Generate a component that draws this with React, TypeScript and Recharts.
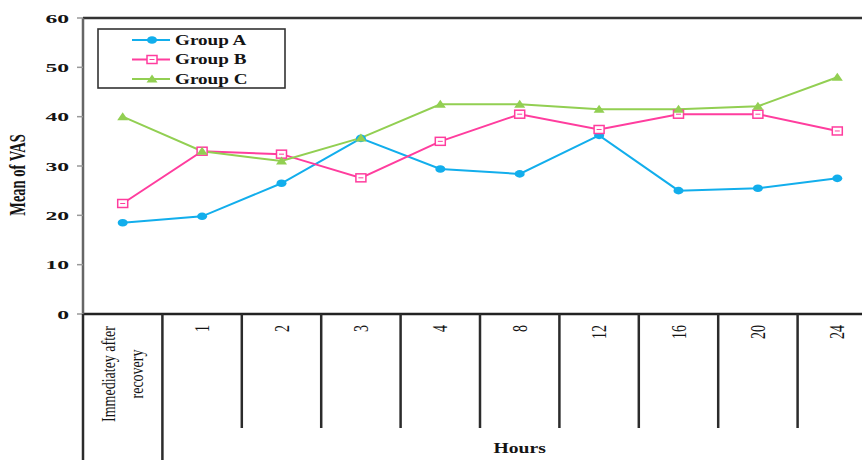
import React from 'react';
import { LineChart, Line, XAxis, YAxis, Legend, Label, ReferenceLine } from 'recharts';

// Mean VAS per group over time after recovery
const categories = ['Immediatey after recovery', '1', '2', '3', '4', '8', '12', '16', '20', '24'];
const groupA = [18.5, 19.8, 26.5, 35.6, 29.4, 28.4, 36.2, 25.0, 25.5, 27.5];
const groupB = [22.4, 33.0, 32.4, 27.6, 35.0, 40.5, 37.4, 40.5, 40.5, 37.1];
const groupC = [40.0, 33.0, 31.0, 35.7, 42.5, 42.5, 41.5, 41.5, 42.1, 48.0];
const yTicks = [0, 10, 20, 30, 40, 50, 60];
const seriesNames = ['Group A', 'Group B', 'Group C'];

const data = categories.map((hour, i) => ({
  hour,
  a: groupA[i],
  b: groupB[i],
  c: groupC[i],
}));

const BLUE = '#12AEEC';
const PINK = '#FF3D9E';
const GREEN = '#92CF52';
const INK = '#141414';
const FONT = "'Liberation Serif', 'Times New Roman', serif";
const SX = 1.4; // horizontal stretch applied to glyphs and markers

const CHART_W = 880;
const CHART_H = 460;
const LEFT = 83;
const RIGHT = 3;
const BAND = (CHART_W - LEFT - RIGHT) / categories.length;

const CircleDot = ({ cx, cy }: any) => <ellipse cx={cx} cy={cy} rx={5} ry={3.8} fill={BLUE} />;

const SquareDot = ({ cx, cy }: any) => (
  <g>
    <rect x={cx - 5} y={cy - 4} width={10} height={8} fill="#fff" stroke={PINK} strokeWidth={1.5} />
    <line x1={cx - 2.5} x2={cx + 2.5} y1={cy} y2={cy} stroke={PINK} strokeWidth={1} />
  </g>
);

const TriangleDot = ({ cx, cy }: any) => (
  <polygon points={`${cx - 5.5},${cy + 3.5} ${cx + 5.5},${cy + 3.5} ${cx},${cy - 4.5}`} fill={GREEN} />
);

const markers = [CircleDot, SquareDot, TriangleDot];
const colors = [BLUE, PINK, GREEN];

const YTick = ({ x, y, payload }: any) => (
  <text
    transform={`translate(${x},${y}) scale(1.75,1)`}
    textAnchor="end"
    dominantBaseline="central"
    fontFamily={FONT}
    fontSize={13.5}
    fontWeight={700}
    fill={INK}
  >
    {payload.value}
  </text>
);

// category cells: divider lines plus rotated labels
const HourTick = ({ x, y, payload, index }: any) => {
  const axisY = y - 2;
  const half = BAND / 2;
  const value: string = payload.value;
  const divider = { stroke: '#2b2b2b', strokeWidth: 2.5 };
  if (index === 0) {
    const cut = value.lastIndexOf(' ');
    const lines = [value.slice(0, cut), value.slice(cut + 1)];
    return (
      <g>
        <line x1={x - half} x2={x - half} y1={axisY} y2={CHART_H} {...divider} />
        <line x1={x + half} x2={x + half} y1={axisY} y2={CHART_H} {...divider} />
        <g transform={`translate(${x},${axisY + 60}) scale(${SX},1) rotate(-90)`}>
          {lines.map((t, i) => (
            <text
              key={t}
              x={0}
              y={(i - 0.5) * 20}
              textAnchor="middle"
              dominantBaseline="central"
              fontFamily={FONT}
              fontSize={14}
              fill={INK}
            >
              {t}
            </text>
          ))}
        </g>
      </g>
    );
  }
  return (
    <g>
      {index > 1 && <line x1={x - half} x2={x - half} y1={axisY} y2={428} {...divider} />}
      <text
        transform={`translate(${x},${axisY + 11}) scale(1.55,1) rotate(-90)`}
        textAnchor="end"
        dominantBaseline="central"
        fontFamily={FONT}
        fontSize={14}
        fill={INK}
      >
        {value}
      </text>
    </g>
  );
};

const HoursLabel = ({ viewBox }: any) => {
  const cx = viewBox.x + BAND + (viewBox.width - BAND) / 2;
  return (
    <text
      transform={`translate(${cx},453) scale(${SX},1)`}
      textAnchor="middle"
      fontFamily={FONT}
      fontSize={14}
      fontWeight={700}
      fill={INK}
    >
      Hours
    </text>
  );
};

const VasLabel = () => (
  <text
    transform={`translate(17,175) scale(1.6,1) rotate(-90)`}
    textAnchor="middle"
    dominantBaseline="central"
    fontFamily={FONT}
    fontSize={14.5}
    fontWeight={700}
    fill={INK}
  >
    Mean of VAS
  </text>
);

const LegendBox = () => (
  <svg width={189} height={61} style={{ display: 'block' }}>
    <rect x={1} y={1} width={187} height={59} fill="#fff" stroke="#333" strokeWidth={1.6} />
    {seriesNames.map((name, i) => {
      const cy = 12 + i * 19.5;
      const Marker = markers[i];
      return (
        <g key={name}>
          <line x1={35} x2={73} y1={cy} y2={cy} stroke={colors[i]} strokeWidth={2} />
          <Marker cx={55} cy={cy} />
          <text
            transform={`translate(78,${cy}) scale(1.32,1)`}
            dominantBaseline="central"
            fontFamily={FONT}
            fontSize={14.5}
            fontWeight={700}
            fill={INK}
          >
            {name}
          </text>
        </g>
      );
    })}
  </svg>
);

export default function App() {
  const keys = ['a', 'b', 'c'];
  return (
    <div
      style={{
        position: 'fixed',
        left: 0,
        top: 0,
        width: 862,
        height: 460,
        overflow: 'hidden',
        background: '#fff',
      }}
    >
      <LineChart
        width={CHART_W}
        height={CHART_H}
        data={data}
        margin={{ top: 18, right: RIGHT, bottom: 0, left: 0 }}
      >
        <XAxis
          dataKey="hour"
          interval={0}
          height={146}
          padding={{ left: BAND / 2, right: BAND / 2 }}
          tickLine={false}
          tickSize={0}
          tickMargin={2}
          axisLine={{ stroke: '#222', strokeWidth: 2.5 }}
          tick={<HourTick />}
        >
          <Label content={<HoursLabel />} />
        </XAxis>
        <YAxis
          width={LEFT}
          domain={[0, 60]}
          ticks={yTicks}
          interval={0}
          tickSize={6}
          tickMargin={8}
          axisLine={{ stroke: '#666', strokeWidth: 2.5 }}
          tickLine={{ stroke: '#999', strokeWidth: 1.5 }}
          tick={<YTick />}
        >
          <Label content={<VasLabel />} />
        </YAxis>
        <ReferenceLine y={60} stroke="#333" strokeWidth={2.5} />
        {keys.map((k, i) => {
          const Marker = markers[i];
          return (
            <Line
              key={k}
              type="linear"
              dataKey={k}
              name={seriesNames[i]}
              stroke={colors[i]}
              strokeWidth={2}
              dot={(p: any) => <Marker key={`${k}-${p.index}`} cx={p.cx} cy={p.cy} />}
              activeDot={false}
              isAnimationActive={false}
            />
          );
        })}
        <Legend
          layout="vertical"
          align="center"
          verticalAlign="middle"
          content={<LegendBox />}
          wrapperStyle={{ left: 97, top: 28, width: 189, height: 61 }}
        />
      </LineChart>
    </div>
  );
}
